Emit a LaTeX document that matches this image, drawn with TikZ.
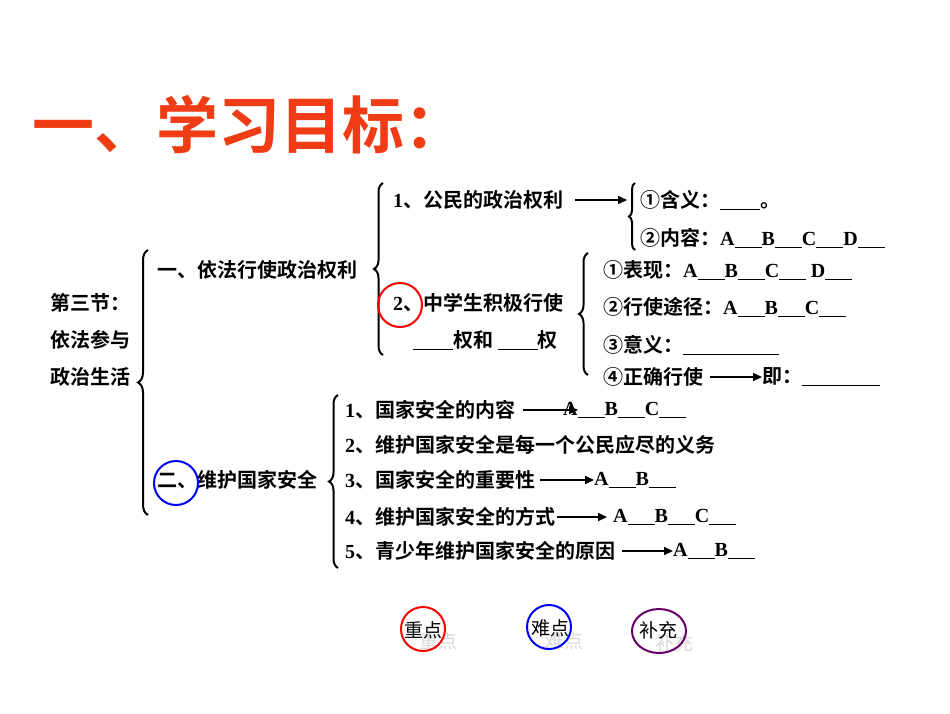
\documentclass[tikz,border=0pt]{standalone}
\usepackage{fontspec}
\setmainfont{Liberation Serif}[BoldFont={Liberation Serif Bold}]
\newfontfamily\cjk{Noto Sans CJK SC}[BoldFont={Noto Sans CJK SC Bold}]
\usetikzlibrary{decorations.pathreplacing,arrows.meta}
\definecolor{titlered}{HTML}{F03C14}
\newcommand\bl[1]{{\rmfamily\bfseries #1}\underline{\hspace{27pt}}}
\newcommand\ul[1]{\underline{\hspace{#1pt}}}
\begin{document}
\begin{tikzpicture}[x=1pt,y=-1pt,
  txt/.style={anchor=west,inner sep=0pt,font=\fontsize{20}{22}\selectfont\bfseries\cjk},
  br/.style={decorate,decoration={brace,amplitude=#1,mirror},line width=2pt},
  br/.default=8,
  arr/.style={-{Triangle[length=9pt,width=8pt]},line width=1.8pt},
  faint/.style={inner sep=0pt,font=\fontsize{19}{21}\selectfont\cjk,text=black!15}]
\useasboundingbox (0,0) rectangle (950,713);
\node[anchor=west,inner sep=0pt,text=titlered,font=\fontsize{62}{66}\selectfont\bfseries\cjk] (title) at (32,125) {一、学习目标：};
\node[txt] (s1) at (50,303) {第三节：};
\node[txt] (s2) at (50,340) {依法参与};
\node[txt] (s3) at (50,377) {政治生活};
\draw[br=10] (148,250) -- (148,515);
\node[txt] (a) at (157,270) {一、依法行使政治权利};
\draw[br=9] (383,183) -- (383,355);
\node[txt] (a1) at (393,200) {{\rmfamily 1}、公民的政治权利};
\coordinate (a1e) at (627,200);
\draw[arr] (575,200) -- (a1e);
\draw[br=6] (635,183) -- (635,250);
\node[txt] (a11) at (640,200) {①含义：\ul{40}。};
\node[txt] (a12) at (640,238) {②内容：\bl{A}\bl{B}\bl{C}\bl{D}};
\node[txt] (a2) at (393,303) {{\rmfamily 2}、中学生积极行使};
\node[txt] (a2b) at (413,340) {\ul{40}权和 \ul{40}权};
\draw[red,line width=2pt] (400,305) circle (22);
\draw[br=9] (588,253) -- (588,375);
\node[txt] (b1) at (603,270) {①表现：\bl{A}\bl{B}\bl{C} \bl{D}};
\node[txt] (b2) at (603,307) {②行使途径：\bl{A}\bl{B}\bl{C}};
\node[txt] (b3) at (603,345) {③意义：\ul{96}};
\node[txt] (b4) at (603,377) {④正确行使};
\node[txt] (b4r) at (762,377) {即：\ul{78}};
\draw[arr] (710,377) -- (b4r.west);
\node[txt] (c) at (157,480) {二、维护国家安全};
\draw[blue,line width=2pt] (176,483) circle (22);
\draw[br=9] (338,395) -- (338,568);
\node[txt] (c1) at (345,410) {{\rmfamily 1}、国家安全的内容};
\node[txt] (c1r) at (563,410) {\bl{A}\bl{B}\bl{C}};
\draw[arr] (523,410) -- (578,410);
\node[txt] (c2) at (345,445) {{\rmfamily 2}、维护国家安全是每一个公民应尽的义务};
\node[txt] (c3) at (345,480) {{\rmfamily 3}、国家安全的重要性};
\node[txt] (c3r) at (594,480) {\bl{A}\bl{B}};
\draw[arr] (540,480) -- (c3r.west);
\node[txt] (c4) at (345,517) {{\rmfamily 4}、维护国家安全的方式};
\node[txt] (c4r) at (613,517) {\bl{A}\bl{B}\bl{C}};
\draw[arr] (557,517) -- (607,517);
\node[txt] (c5) at (345,551) {{\rmfamily 5}、青少年维护国家安全的原因};
\node[txt] (c5r) at (673,551) {\bl{A}\bl{B}};
\draw[arr] (622,551) -- (c5r.west);
\node[faint] (f1) at (438,641) {重点};
\node[faint] (f2) at (564,641) {难点};
\node[faint] (f3) at (674,643) {补充};
\draw[red,line width=2pt] (423,629) circle (22);
\draw[blue,line width=2pt] (549,627) circle (22);
\draw[violet!80!black,line width=2pt] (659,631) ellipse (27 and 22);
\node[inner sep=0pt,font=\fontsize{19}{21}\selectfont\cjk] (k1) at (423,630) {重点};
\node[inner sep=0pt,font=\fontsize{19}{21}\selectfont\cjk] (k2) at (550,628) {难点};
\node[inner sep=0pt,font=\fontsize{19}{21}\selectfont\cjk] (k3) at (658,630) {补充};
\end{tikzpicture}
\end{document}
